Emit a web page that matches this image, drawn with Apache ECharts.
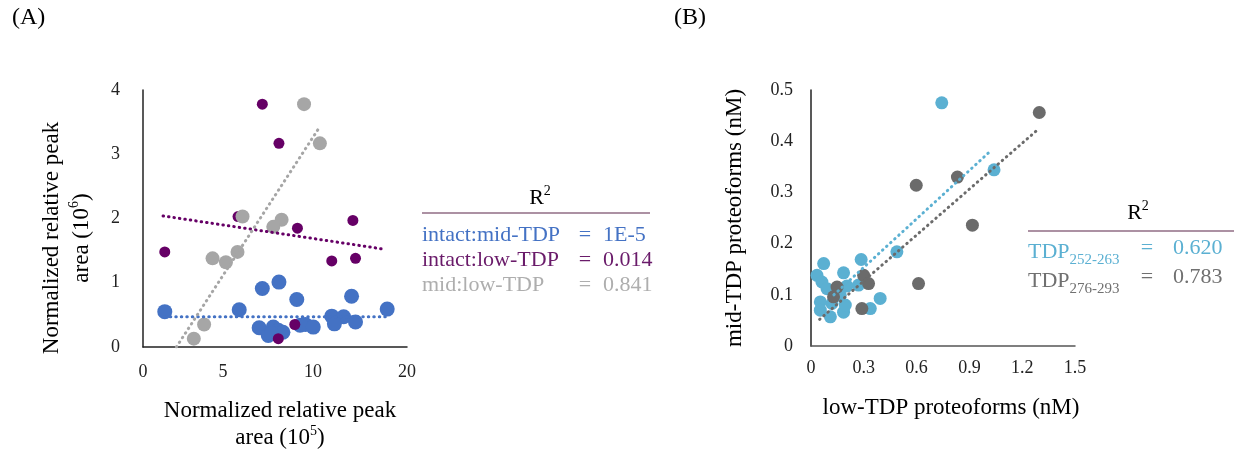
<!DOCTYPE html>
<html>
<head>
<meta charset="utf-8">
<script src="https://cdn.jsdelivr.net/npm/echarts@6/dist/echarts.min.js"></script>
<style>
html, body { margin: 0; background: #fff; }
#chart { width: 1234px; height: 450px; }
</style>
</head>
<body>
<div id="chart"></div>
<script>
// ---- panel A data ----
const intactMid = [
  [1.65, 0.55], [7.29, 0.58], [9.04, 0.91], [10.3, 1.01], [11.65, 0.74],
  [15.8, 0.79], [18.5, 0.59], [14.3, 0.48], [15.2, 0.47], [14.5, 0.36],
  [16.1, 0.39], [8.8, 0.30], [9.49, 0.18], [9.87, 0.31], [10.25, 0.26],
  [10.6, 0.23], [11.9, 0.34], [12.3, 0.35], [12.9, 0.31], [9.75, 0.21]
];
const intactLow = [
  [9.04, 3.78], [10.3, 3.17], [7.2, 2.03], [11.7, 1.85], [15.9, 1.97],
  [1.65, 1.48], [14.3, 1.34], [16.1, 1.38], [11.5, 0.35], [10.25, 0.13]
];
const midLow = [
  [12.2, 3.78], [13.4, 3.17], [7.54, 2.03], [10.5, 1.98], [9.87, 1.87],
  [7.16, 1.48], [5.27, 1.38], [6.28, 1.32], [4.63, 0.35], [3.85, 0.13]
];
const trendIntactMid = [[1.65, 0.47], [18.5, 0.47]];
const trendIntactLow = [[1.52, 2.04], [18.35, 1.52]];
const trendMidLow = [[2.53, 0], [13.4, 3.43]];
const xTickValsA = [0, 6.06, 12.88, 20];
const xTickTextA = ['0', '5', '10', '20'];
const legendNamesA = ['intact:mid-TDP', 'intact:low-TDP', 'mid:low-TDP'];
const legendR2A = ['1E-5', '0.014', '0.841'];

// ---- panel B data ----
const tdp252 = [
  [0.743, 0.475], [1.04, 0.344], [0.488, 0.184], [0.285, 0.169], [0.072, 0.161],
  [0.185, 0.143], [0.034, 0.138], [0.062, 0.125], [0.091, 0.112], [0.204, 0.117],
  [0.27, 0.119], [0.166, 0.099], [0.053, 0.086], [0.119, 0.083], [0.393, 0.093],
  [0.053, 0.07], [0.11, 0.057], [0.185, 0.066], [0.195, 0.08], [0.337, 0.073]
];
const tdp276 = [
  [1.297, 0.456], [0.832, 0.33], [0.598, 0.314], [0.917, 0.236], [0.611, 0.122],
  [0.299, 0.138], [0.327, 0.122], [0.148, 0.115], [0.128, 0.096], [0.289, 0.073]
];
const trend252 = [[0.13, 0.10], [1.027, 0.383]];
const trend276 = [[0.049, 0.052], [1.29, 0.423]];
const legendSubB = ['252-263', '276-293'];
const legendR2B = ['0.620', '0.783'];

const FONT = '"Liberation Serif", "Times New Roman", serif';
const colA = ['#4472C4', '#660066', '#A6A6A6'];
const legendColA = ['#4472C4', '#6A1B6A', '#AEAEAE'];
const colB = ['#5BB0D2', '#6B6B6B'];
const legendColB = ['#5BB0D2', '#707070'];

const chart = echarts.init(document.getElementById('chart'));

function dots(name, data, color, size, xi) {
  return {
    name: name, type: 'scatter', xAxisIndex: xi, yAxisIndex: xi,
    data: data, symbolSize: size, itemStyle: { color: color, opacity: 1 },
    silent: true, z: 2
  };
}
function trend(data, color, xi) {
  return {
    type: 'line', xAxisIndex: xi, yAxisIndex: xi, data: data,
    showSymbol: false, silent: true, z: 5,
    lineStyle: { color: color, width: 3, type: [0.5, 5], cap: 'round' }
  };
}

const supRich = { sup: { fontSize: 14, fontFamily: FONT, verticalAlign: 'top', lineHeight: 14 } };

const graphic = [
  { type: 'text', x: 12, y: 18, style: { text: '(A)', font: '24px ' + FONT, fill: '#000', verticalAlign: 'middle' } },
  { type: 'text', x: 674, y: 18, style: { text: '(B)', font: '24px ' + FONT, fill: '#000', verticalAlign: 'middle' } },
  // y-axis title of panel A (sits below the axis centre in the reference)
  { type: 'text', x: 67, y: 238, rotation: Math.PI / 2, style: {
      text: 'Normalized relative peak\narea (10{sup|6})', font: '23px ' + FONT, fill: '#000',
      align: 'center', verticalAlign: 'middle', lineHeight: 30, rich: supRich } },
  // legend A
  { type: 'text', x: 540, y: 198, style: {
      text: 'R{sup|2}', font: '22px ' + FONT, fill: '#000', align: 'center', verticalAlign: 'middle',
      lineHeight: 28, rich: supRich } },
  { type: 'line', shape: { x1: 422, y1: 213, x2: 650, y2: 213 }, style: { stroke: '#5A2448', lineWidth: 1.2 } },
  // legend B
  { type: 'text', x: 1138, y: 213, style: {
      text: 'R{sup|2}', font: '22px ' + FONT, fill: '#000', align: 'center', verticalAlign: 'middle',
      lineHeight: 28, rich: supRich } },
  { type: 'line', shape: { x1: 1028, y1: 231, x2: 1234, y2: 231 }, style: { stroke: '#5A2448', lineWidth: 1.2 } }
];
legendNamesA.forEach((n, i) => {
  const y = 235 + i * 25;
  const c = legendColA[i];
  graphic.push(
    { type: 'text', x: 422, y: y, style: { text: n, font: '22px ' + FONT, fill: c, verticalAlign: 'middle' } },
    { type: 'text', x: 585, y: y, style: { text: '=', font: '22px ' + FONT, fill: c, align: 'center', verticalAlign: 'middle' } },
    { type: 'text', x: 603, y: y, style: { text: legendR2A[i], font: '22px ' + FONT, fill: c, verticalAlign: 'middle' } }
  );
});
legendSubB.forEach((s, i) => {
  const y = 252 + i * 29;
  const c = legendColB[i];
  graphic.push(
    { type: 'text', x: 1028, y: y, style: {
        text: 'TDP{sub|' + s + '}', font: '22px ' + FONT, fill: c, verticalAlign: 'middle', lineHeight: 32,
        rich: { sub: { fontSize: 15, fontFamily: FONT, fill: c, color: c, verticalAlign: 'bottom', lineHeight: 17 } } } },
    { type: 'text', x: 1147, y: y - 4, style: { text: '=', font: '22px ' + FONT, fill: c, align: 'center', verticalAlign: 'middle' } },
    { type: 'text', x: 1173, y: y - 4, style: { text: legendR2B[i], font: '22px ' + FONT, fill: c, verticalAlign: 'middle' } }
  );
});

const tickLabel = { fontFamily: FONT, fontSize: 18, color: '#222' };

chart.setOption({
  backgroundColor: '#fff',
  animation: false,
  grid: [
    { left: 143, top: 90, width: 264, height: 257, outerBoundsMode: 'none' },
    { left: 811, top: 90, width: 264, height: 256, outerBoundsMode: 'none' }
  ],
  xAxis: [
    {
      gridIndex: 0, type: 'value', min: 0, max: 20,
      splitLine: { show: false }, axisTick: { show: false },
      axisLine: { lineStyle: { color: '#222', width: 1.5 } },
      axisLabel: Object.assign({}, tickLabel, {
        margin: 16, customValues: xTickValsA,
        formatter: v => xTickTextA[xTickValsA.indexOf(v)] ?? ''
      }),
      name: 'Normalized relative peak\narea (10{sup|5})',
      nameLocation: 'middle', nameGap: 50,
      nameTextStyle: { fontFamily: FONT, fontSize: 23, color: '#000', lineHeight: 27, padding: [0, 0, 0, 10], rich: supRich }
    },
    {
      gridIndex: 1, type: 'value', min: 0, max: 1.5, interval: 0.3,
      splitLine: { show: false }, axisTick: { show: false },
      axisLine: { lineStyle: { color: '#555', width: 1.5 } },
      axisLabel: Object.assign({}, tickLabel, { margin: 13 }),
      name: 'low-TDP proteoforms (nM)',
      nameLocation: 'middle', nameGap: 50,
      nameTextStyle: { fontFamily: FONT, fontSize: 23, color: '#000', padding: [0, 0, 0, 16] }
    }
  ],
  yAxis: [
    {
      gridIndex: 0, type: 'value', min: 0, max: 4, interval: 1,
      splitLine: { show: false }, axisTick: { show: false },
      axisLine: { show: true, lineStyle: { color: '#222', width: 1.5 } },
      axisLabel: Object.assign({}, tickLabel, { margin: 23 })
    },
    {
      gridIndex: 1, type: 'value', min: 0, max: 0.5, interval: 0.1,
      splitLine: { show: false }, axisTick: { show: false },
      axisLine: { show: true, lineStyle: { color: '#222', width: 1.5 } },
      axisLabel: Object.assign({}, tickLabel, { margin: 18 }),
      name: 'mid-TDP proteoforms (nM)',
      nameLocation: 'middle', nameGap: 65, nameRotate: 90,
      nameTextStyle: { fontFamily: FONT, fontSize: 23, color: '#000' }
    }
  ],
  series: [
    dots('intact:mid-TDP', intactMid, colA[0], 15, 0),
    dots('intact:low-TDP', intactLow, colA[1], 11, 0),
    dots('mid:low-TDP', midLow, colA[2], 14, 0),
    trend(trendIntactMid, colA[0], 0),
    trend(trendIntactLow, colA[1], 0),
    trend(trendMidLow, colA[2], 0),
    dots('TDP252-263', tdp252, colB[0], 13, 1),
    dots('TDP276-293', tdp276, colB[1], 13, 1),
    trend(trend252, colB[0], 1),
    trend(trend276, colB[1], 1)
  ],
  graphic: graphic
});
</script>
</body>
</html>
